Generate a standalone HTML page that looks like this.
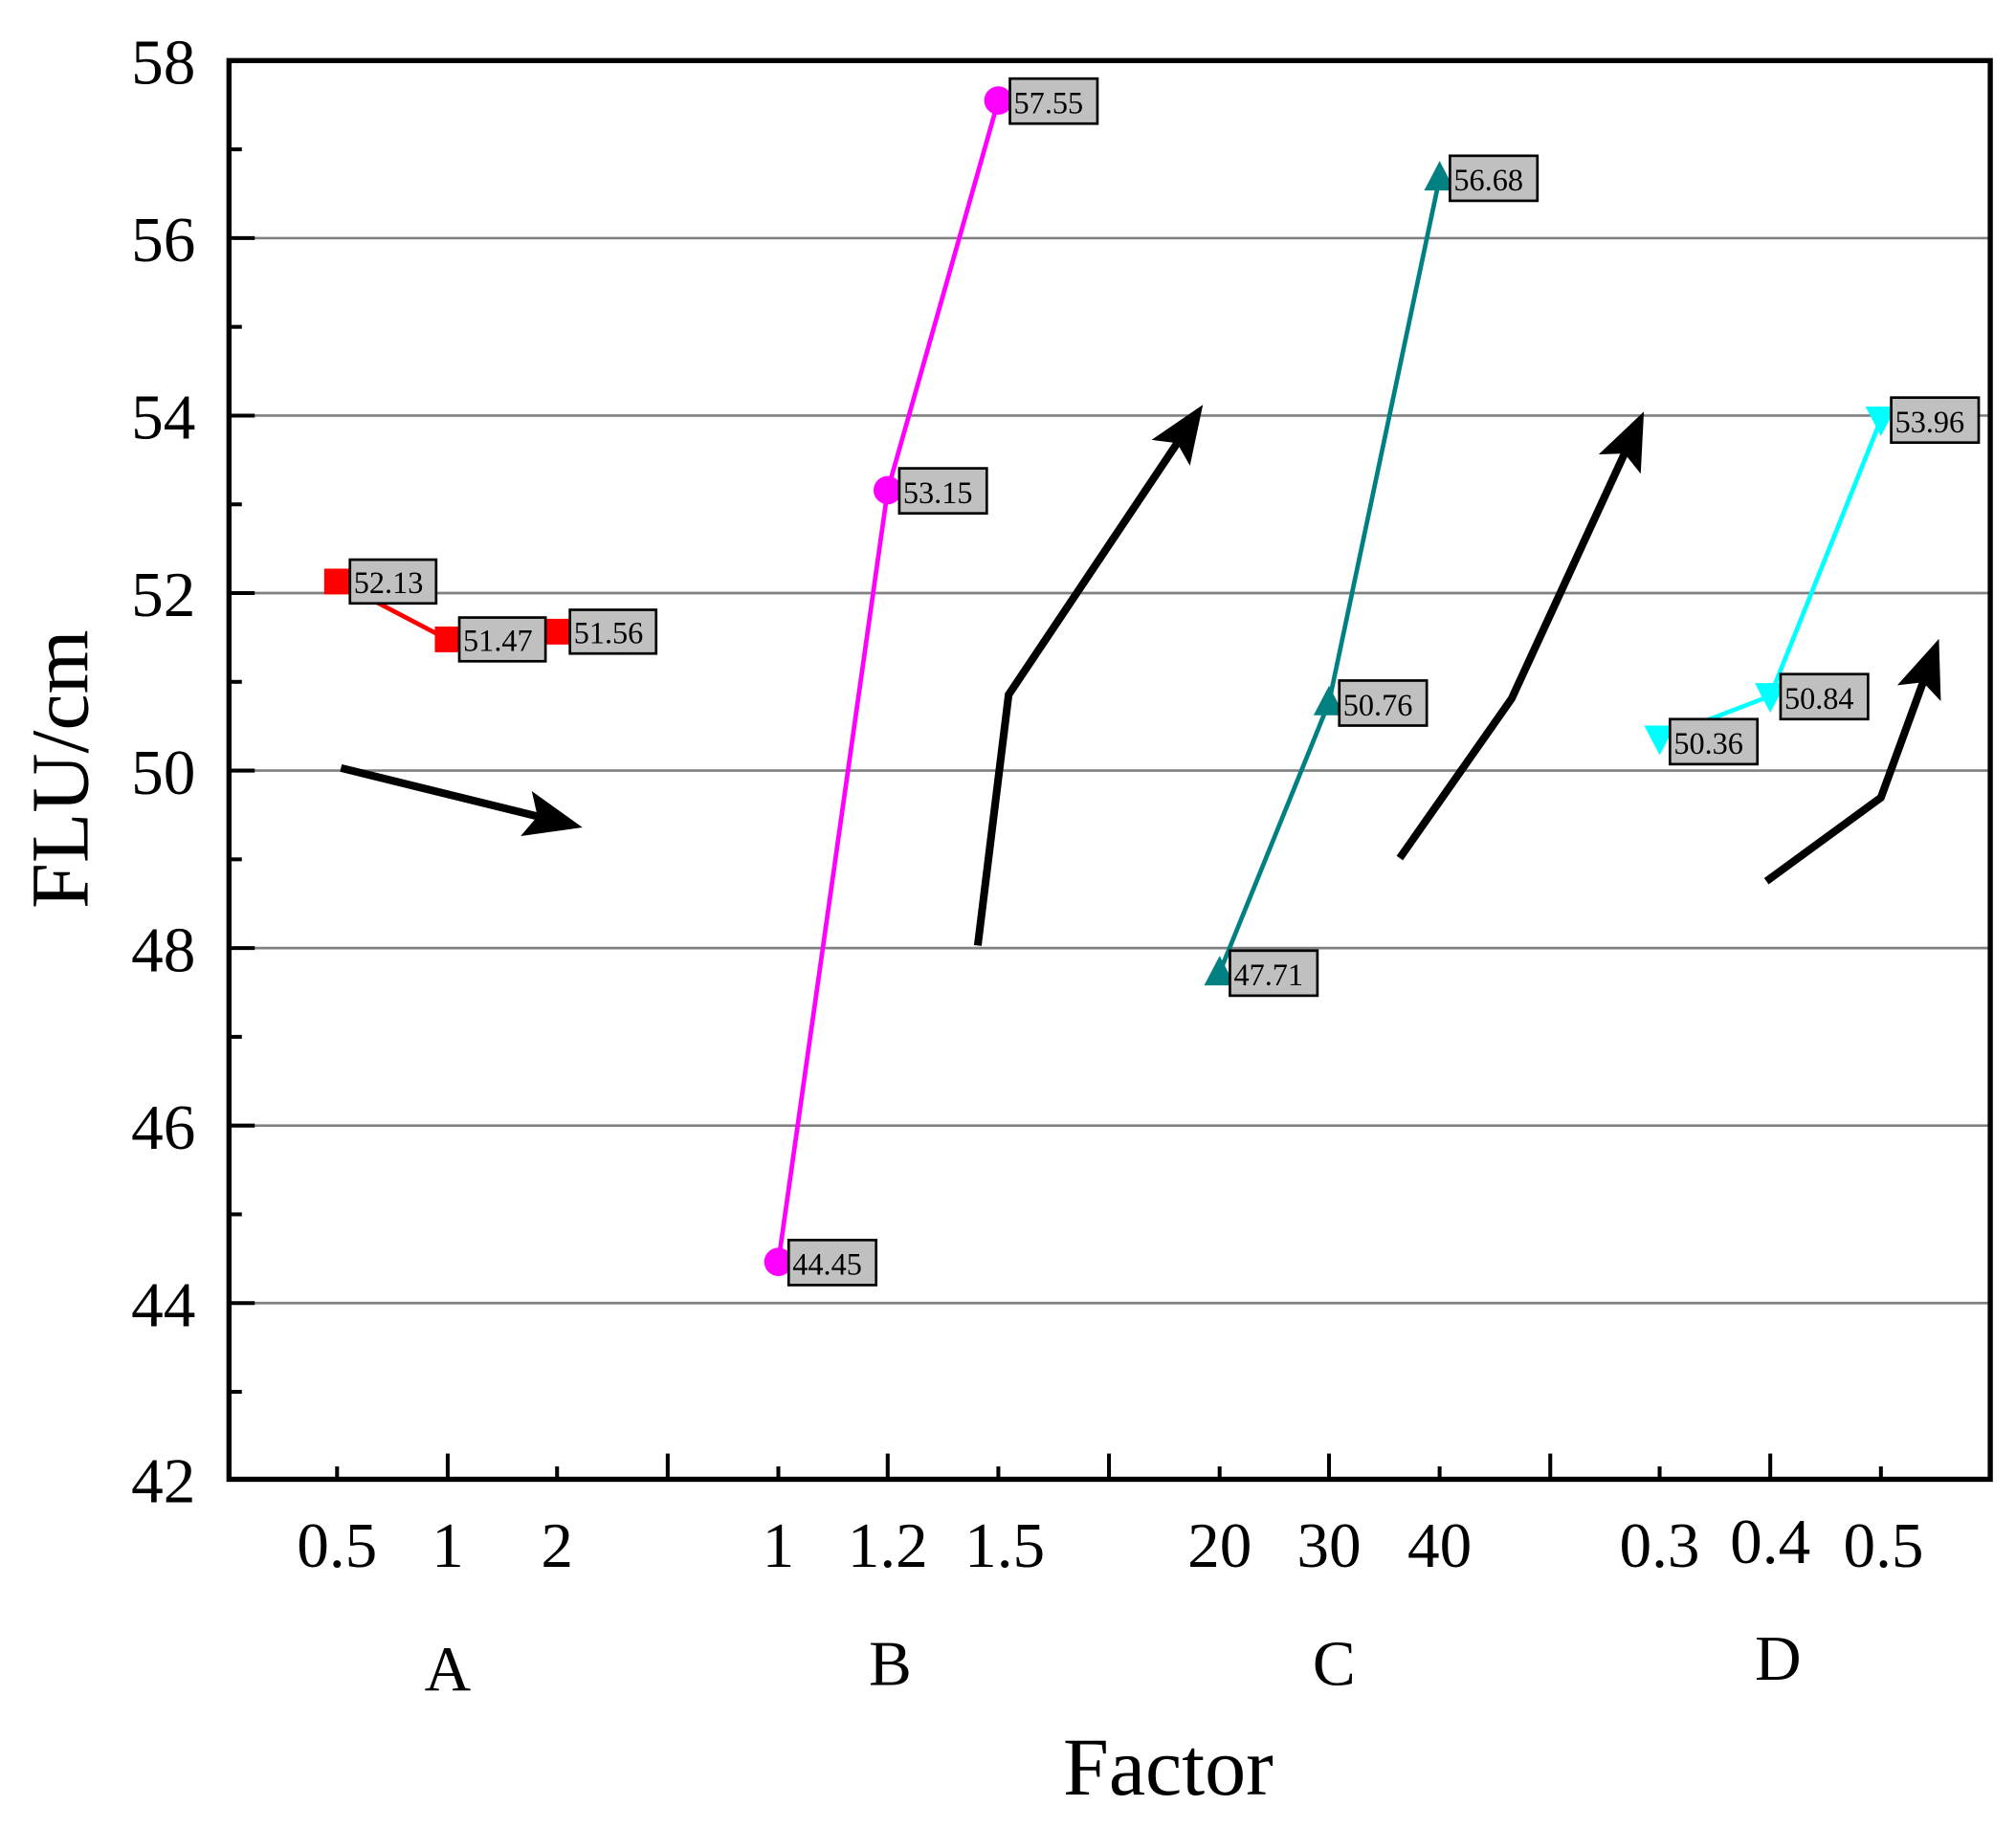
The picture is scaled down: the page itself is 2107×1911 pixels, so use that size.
<!DOCTYPE html>
<html><head><style>html,body{margin:0;padding:0;background:#fff}svg{display:block}</style></head><body>
<svg width="2107" height="1911" viewBox="0 0 1567 1421" xmlns="http://www.w3.org/2000/svg" font-family="Liberation Serif, serif">
<defs><marker id="ah" markerWidth="8" markerHeight="6" refX="6" refY="3" orient="auto" markerUnits="strokeWidth"><path d="M0,0 L7.5,3 L0,6 L1.5,3 Z" fill="#000"/></marker></defs>
<g stroke="#808080" stroke-width="2">
<line x1="178" x2="1547" y1="185" y2="185"/><line x1="178" x2="1547" y1="323" y2="323"/><line x1="178" x2="1547" y1="461" y2="461"/><line x1="178" x2="1547" y1="599" y2="599"/><line x1="178" x2="1547" y1="737" y2="737"/><line x1="178" x2="1547" y1="875" y2="875"/><line x1="178" x2="1547" y1="1013" y2="1013"/>
</g>
<g stroke="#000" stroke-width="3">
<line x1="178" x2="198" y1="185" y2="185"/><line x1="178" x2="198" y1="323" y2="323"/><line x1="178" x2="198" y1="461" y2="461"/><line x1="178" x2="198" y1="599" y2="599"/><line x1="178" x2="198" y1="737" y2="737"/><line x1="178" x2="198" y1="875" y2="875"/><line x1="178" x2="198" y1="1013" y2="1013"/>
<line x1="178" x2="188" y1="116" y2="116"/><line x1="178" x2="188" y1="254" y2="254"/><line x1="178" x2="188" y1="392" y2="392"/><line x1="178" x2="188" y1="530" y2="530"/><line x1="178" x2="188" y1="668" y2="668"/><line x1="178" x2="188" y1="806" y2="806"/><line x1="178" x2="188" y1="944" y2="944"/><line x1="178" x2="188" y1="1082" y2="1082"/>
<line x1="348" x2="348" y1="1150" y2="1130"/><line x1="519" x2="519" y1="1150" y2="1130"/><line x1="690" x2="690" y1="1150" y2="1130"/><line x1="862" x2="862" y1="1150" y2="1130"/><line x1="1033" x2="1033" y1="1150" y2="1130"/><line x1="1205" x2="1205" y1="1150" y2="1130"/><line x1="1376" x2="1376" y1="1150" y2="1130"/>
<line x1="262" x2="262" y1="1150" y2="1140"/><line x1="433" x2="433" y1="1150" y2="1140"/><line x1="605" x2="605" y1="1150" y2="1140"/><line x1="776" x2="776" y1="1150" y2="1140"/><line x1="948" x2="948" y1="1150" y2="1140"/><line x1="1119" x2="1119" y1="1150" y2="1140"/><line x1="1290" x2="1290" y1="1150" y2="1140"/><line x1="1462" x2="1462" y1="1150" y2="1140"/>
</g>
<rect x="178" y="47" width="1369" height="1103" fill="none" stroke="#000" stroke-width="4"/>
<g font-size="50" text-anchor="end">
<text x="152" y="65">58</text><text x="152" y="203">56</text><text x="152" y="341">54</text><text x="152" y="479">52</text><text x="152" y="617">50</text><text x="152" y="755">48</text><text x="152" y="893">46</text><text x="152" y="1031">44</text><text x="152" y="1168">42</text>
</g>
<g font-size="50" text-anchor="middle">
<text x="262" y="1218">0.5</text><text x="348" y="1218">1</text><text x="433" y="1218">2</text>
<text x="605" y="1218">1</text><text x="690" y="1218">1.2</text><text x="781" y="1218">1.5</text>
<text x="948" y="1218">20</text><text x="1033" y="1218">30</text><text x="1119" y="1218">40</text>
<text x="1290" y="1218">0.3</text><text x="1376" y="1215">0.4</text><text x="1464" y="1218">0.5</text>
<text x="348" y="1314">A</text><text x="692" y="1310">B</text><text x="1037" y="1310">C</text><text x="1382" y="1306">D</text>
<text x="908" y="1395" font-size="64">Factor</text>
<text transform="translate(68,598) rotate(-90)" font-size="64">FLU/cm</text>
</g>
<g fill="none" stroke-width="3.5">
<polyline points="262,452 348,497 433,491" stroke="#ff0000"/>
<polyline points="605,981 690,381 776,78" stroke="#ff00ff"/>
<polyline points="948,756 1033,546 1119,138" stroke="#008080"/>
<polyline points="1290,574 1376,541 1462,326" stroke="#00ffff"/>
</g>
<g fill="#ff0000"><rect x="252" y="442" width="20" height="20"/><rect x="338" y="487" width="20" height="20"/><rect x="423" y="481" width="20" height="20"/></g>
<g fill="#ff00ff"><circle cx="605" cy="981" r="11"/><circle cx="690" cy="381" r="11"/><circle cx="776" cy="78" r="11"/></g>
<g fill="#008080"><path d="M936,766 L960,766 L948,743 Z"/><path d="M1021,556 L1045,556 L1033,533 Z"/><path d="M1107,148 L1131,148 L1119,125 Z"/></g>
<g fill="#00ffff"><path d="M1278,564 L1302,564 L1290,587 Z"/><path d="M1364,531 L1388,531 L1376,554 Z"/><path d="M1450,316 L1474,316 L1462,339 Z"/></g>
<g fill="none" stroke="#000" stroke-width="6" stroke-linejoin="miter">
<polyline points="265,597 444,641" marker-end="url(#ah)"/>
<polyline points="760,735 784,540 930,322" marker-end="url(#ah)"/>
<polyline points="1088,667 1175,543 1274,328" marker-end="url(#ah)"/>
<polyline points="1373,685 1462,620 1504,505" marker-end="url(#ah)"/>
</g>
<g font-size="24" stroke-width="2">
<g><rect x="272" y="435" width="67" height="34" fill="#c0c0c0" stroke="#000"/><text x="275" y="461">52.13</text></g>
<g><rect x="357" y="480" width="67" height="34" fill="#c0c0c0" stroke="#000"/><text x="360" y="506">51.47</text></g>
<g><rect x="443" y="474" width="67" height="34" fill="#c0c0c0" stroke="#000"/><text x="446" y="500">51.56</text></g>
<g><rect x="613" y="964" width="68" height="35" fill="#c0c0c0" stroke="#000"/><text x="616" y="991">44.45</text></g>
<g><rect x="699" y="364" width="68" height="35" fill="#c0c0c0" stroke="#000"/><text x="702" y="391">53.15</text></g>
<g><rect x="785" y="61" width="68" height="35" fill="#c0c0c0" stroke="#000"/><text x="788" y="88">57.55</text></g>
<g><rect x="956" y="739" width="68" height="35" fill="#c0c0c0" stroke="#000"/><text x="959" y="766">47.71</text></g>
<g><rect x="1041" y="529" width="68" height="35" fill="#c0c0c0" stroke="#000"/><text x="1044" y="556">50.76</text></g>
<g><rect x="1127" y="121" width="68" height="35" fill="#c0c0c0" stroke="#000"/><text x="1130" y="148">56.68</text></g>
<g><rect x="1298" y="559" width="68" height="35" fill="#c0c0c0" stroke="#000"/><text x="1301" y="586">50.36</text></g>
<g><rect x="1384" y="524" width="68" height="35" fill="#c0c0c0" stroke="#000"/><text x="1387" y="551">50.84</text></g>
<g><rect x="1470" y="309" width="68" height="35" fill="#c0c0c0" stroke="#000"/><text x="1473" y="336">53.96</text></g>
</g>
</svg>
</body></html>
